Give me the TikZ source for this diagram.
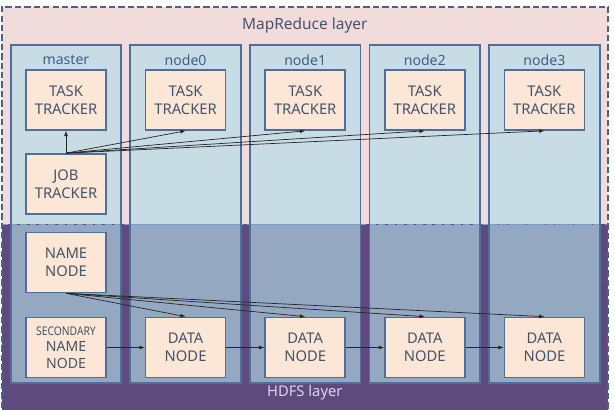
\documentclass[tikz,border=0pt]{standalone}
\usepackage{fontspec}
\setmainfont{Noto Sans}
\usepackage{graphicx}
\usepackage{tikz}
\usetikzlibrary{arrows.meta,positioning,fit,backgrounds}
\definecolor{mrpink}{HTML}{F2DCDB}
\definecolor{hdvio}{HTML}{5E4A7C}
\definecolor{colup}{HTML}{C8DCE5}
\definecolor{collo}{HTML}{95A8C2}
\definecolor{bxfill}{HTML}{FCE6D6}
\definecolor{bord}{HTML}{4F6E99}
\definecolor{txtc}{HTML}{44546A}
\definecolor{ttlc}{HTML}{3F5F88}
\definecolor{divc}{HTML}{7B9DCA}
\definecolor{hdtxt}{HTML}{DCD6E8}
\tikzset{
  lyr/.style={rectangle,minimum width=15.15cm,inner sep=0pt},
  frm/.style={rectangle,draw=bord!90!black,line width=1.2pt,dash pattern=on 4.5pt off 2.2pt,inner sep=0pt},
  dvd/.style={draw=divc,line width=.8pt,dash pattern=on 4.5pt off 2.2pt},
  colu/.style={rectangle,fill=colup,minimum width=2.75cm,minimum height=4.475cm,inner sep=0pt},
  coll/.style={rectangle,fill=collo,minimum width=2.75cm,minimum height=3.95cm,inner sep=0pt},
  colf/.style={rectangle,draw=bord,line width=1.2pt,inner sep=0pt},
  bx/.style={rectangle,draw=bord,fill=bxfill,line width=1.2pt,minimum width=2cm,minimum height=1.5cm,
    inner sep=0pt,align=center,text=txtc,font=\fontsize{10.5}{12.8}\selectfont},
  ttl/.style={text=ttlc,font=\fontsize{10}{11}\selectfont},
  lay/.style={font=\fontsize{11}{12}\selectfont},
  msg/.style={-{Latex[length=1.3mm,width=1mm]},line width=.5pt,draw=black!85},
}

\begin{document}
\begin{tikzpicture}
\useasboundingbox (0,0) rectangle (15.375,10.25);
% the two layers, MapReduce above and HDFS below
\node[lyr,fill=mrpink,minimum height=5.425cm] (mr) at (7.625,7.3625) {};
\node[lyr,fill=hdvio,minimum height=4.75cm] (hd) at (7.625,2.275) {};
\draw[dvd] (mr.south west) -- (mr.south east);
\node[frm,fit=(mr)(hd)] (lyrs) {};
\node[lay,text=txtc] (mrl) at (7.62,9.625) {MapReduce layer};
\node[lay,text=hdtxt,font=\fontsize{10.5}{12}\selectfont] (hdl) at (7.62,0.425) {HDFS layer};
% one column per machine, light on top and darker in HDFS
\node[colu] (cmu) at (1.65,6.8875) {};  \node[coll,below=0pt of cmu] (cml) {};
\node[colu] (c0u) at (4.64,6.8875) {};  \node[coll,below=0pt of c0u] (c0l) {};
\node[colu] (c1u) at (7.63,6.8875) {};  \node[coll,below=0pt of c1u] (c1l) {};
\node[colu] (c2u) at (10.62,6.8875) {}; \node[coll,below=0pt of c2u] (c2l) {};
\node[colu] (c3u) at (13.61,6.8875) {}; \node[coll,below=0pt of c3u] (c3l) {};
\draw[dvd] (cmu.south west) -- (cmu.south east) (c0u.south west) -- (c0u.south east)
  (c1u.south west) -- (c1u.south east) (c2u.south west) -- (c2u.south east)
  (c3u.south west) -- (c3u.south east);
\node[colf,fit=(cmu)(cml)] (cmf) {};
\node[colf,fit=(c0u)(c0l)] (c0f) {};
\node[colf,fit=(c1u)(c1l)] (c1f) {};
\node[colf,fit=(c2u)(c2l)] (c2f) {};
\node[colf,fit=(c3u)(c3l)] (c3f) {};
\node[ttl] (tm) at (1.65,8.75) {master};
\node[ttl] (t0) at (4.64,8.75) {node0};
\node[ttl] (t1) at (7.63,8.75) {node1};
\node[ttl] (t2) at (10.62,8.75) {node2};
\node[ttl] (t3) at (13.61,8.75) {node3};
% MapReduce daemons
\node[bx] (ttm) at (1.65,7.75) {TASK\\TRACKER};
\node[bx] (tt0) at (4.64,7.75) {TASK\\TRACKER};
\node[bx] (tt1) at (7.63,7.75) {TASK\\TRACKER};
\node[bx] (tt2) at (10.62,7.75) {TASK\\TRACKER};
\node[bx] (tt3) at (13.61,7.75) {TASK\\TRACKER};
\node[bx] (jt) at (1.65,5.65) {JOB\\TRACKER};
% HDFS daemons
\node[bx] (nn) at (1.65,3.6875) {NAME\\NODE};
\node[bx,font=\fontsize{10}{11.6}\selectfont] (snn) at (1.65,1.5625)
  {{\fontsize{8.5}{11.6}\selectfont\scalebox{0.86}[1]{SECONDARY}}\\NAME\\NODE};
\node[bx] (dn0) at (4.64,1.5625) {DATA\\NODE};
\node[bx] (dn1) at (7.63,1.5625) {DATA\\NODE};
\node[bx] (dn2) at (10.62,1.5625) {DATA\\NODE};
\node[bx] (dn3) at (13.61,1.5625) {DATA\\NODE};
% job tracker hands tasks out, name node points at every data node
\draw[msg] (jt.north) -- (ttm.south);
\draw[msg] (jt.north) -- (tt0.south);
\draw[msg] (jt.north) -- (tt1.south);
\draw[msg] (jt.north) -- (tt2.south);
\draw[msg] (jt.north) -- (tt3.south);
\draw[msg] (nn.south) -- (dn0.north);
\draw[msg] (nn.south) -- (dn1.north);
\draw[msg] (nn.south) -- (dn2.north);
\draw[msg] (nn.south) -- (dn3.north);
\draw[msg] (snn) -- (dn0);
\draw[msg] (dn0) -- (dn1);
\draw[msg] (dn1) -- (dn2);
\draw[msg] (dn2) -- (dn3);
\end{tikzpicture}
\end{document}
